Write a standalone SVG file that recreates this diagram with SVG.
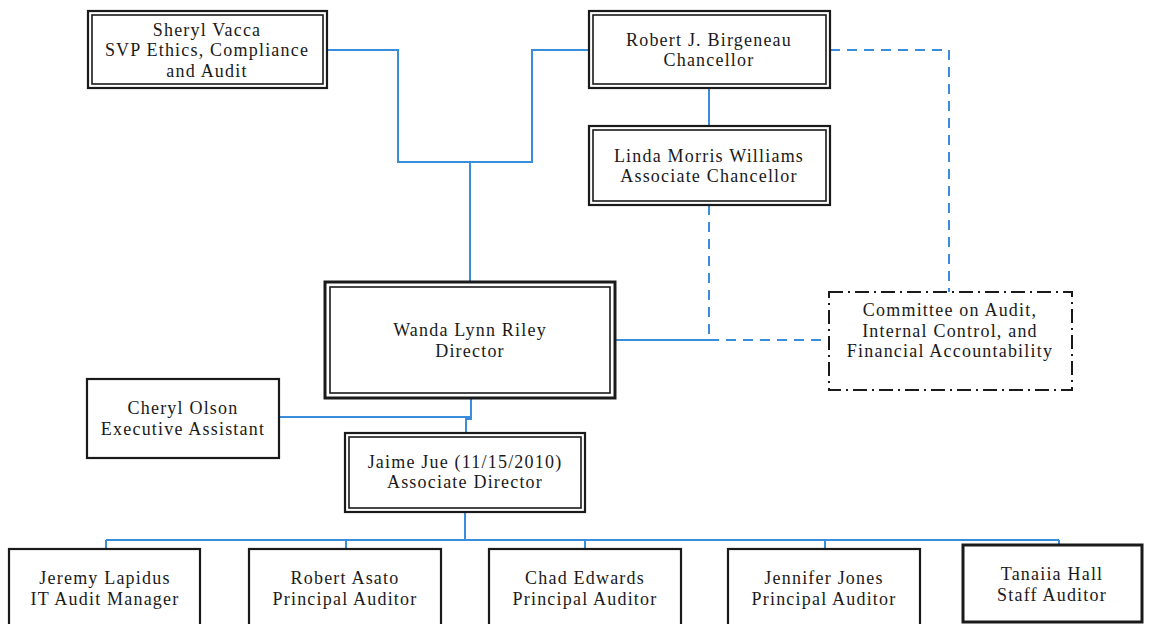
<svg xmlns="http://www.w3.org/2000/svg" width="1153" height="624" viewBox="0 0 1153 624">
<style>
.bg{fill:#ffffff}
.box{fill:#ffffff;stroke:#1a1a1a;stroke-width:2.2}
.inner{fill:none;stroke:#1a1a1a;stroke-width:1.6}
.thick{fill:#ffffff;stroke:#1a1a1a;stroke-width:3}
.cmt{fill:#ffffff;stroke:#1a1a1a;stroke-width:2;stroke-dasharray:14 5 2 5}
.ln{fill:none;stroke:#3a8ddb;stroke-width:2}
.dash{fill:none;stroke:#3a8ddb;stroke-width:2;stroke-dasharray:10 7}
text{font-family:"Liberation Serif","Times New Roman",serif;font-size:18px;fill:#1a1a1a;text-anchor:middle;letter-spacing:1.2px}
</style>
<rect class="bg" x="0" y="0" width="1153" height="624"/>
<g id="connectors">
<polyline class="ln" points="327,50 398,50 398,162 532,162 532,50 589,50"/>
<line class="ln" x1="470" y1="162" x2="470" y2="282"/>
<line class="ln" x1="709" y1="88" x2="709" y2="126"/>
<polyline class="dash" points="709,205 709,340"/>
<line class="ln" x1="615" y1="340" x2="709" y2="340"/>
<line class="dash" x1="709" y1="340" x2="829" y2="340"/>
<polyline class="dash" points="830,50 949,50 949,292"/>
<polyline class="ln" points="471,398 471,419 466,419 466,433"/>
<line class="ln" x1="279" y1="417" x2="471" y2="417"/>
<line class="ln" x1="465" y1="512" x2="465" y2="540"/>
<line class="ln" x1="106" y1="540" x2="1059" y2="540"/>
<line class="ln" x1="106" y1="540" x2="106" y2="549"/>
<line class="ln" x1="346" y1="540" x2="346" y2="549"/>
<line class="ln" x1="585" y1="540" x2="585" y2="549"/>
<line class="ln" x1="825" y1="540" x2="825" y2="549"/>
<line class="ln" x1="1059" y1="540" x2="1059" y2="545"/>
</g>
<g id="vacca">
<rect class="box" x="88" y="11" width="239" height="77"/>
<rect class="inner" x="92" y="15" width="231" height="69"/>
<text x="207" y="36">Sheryl Vacca</text>
<text x="207" y="56">SVP Ethics, Compliance</text>
<text x="207" y="77">and Audit</text>
</g>
<g id="birgeneau">
<rect class="box" x="589" y="11" width="241" height="77"/>
<rect class="inner" x="593" y="15" width="233" height="69"/>
<text x="709" y="46">Robert J. Birgeneau</text>
<text x="709" y="66">Chancellor</text>
</g>
<g id="williams">
<rect class="box" x="589" y="126" width="241" height="79"/>
<rect class="inner" x="593" y="130" width="233" height="71"/>
<text x="709" y="162">Linda Morris Williams</text>
<text x="709" y="182">Associate Chancellor</text>
</g>
<g id="riley">
<rect class="thick" x="325" y="282" width="290" height="116"/>
<rect class="inner" x="330" y="287" width="280" height="106"/>
<text x="470" y="336">Wanda Lynn Riley</text>
<text x="470" y="357">Director</text>
</g>
<g id="committee">
<rect class="cmt" x="829" y="292" width="243" height="98"/>
<text x="950" y="316">Committee on Audit,</text>
<text x="950" y="337">Internal Control, and</text>
<text x="950" y="357">Financial Accountability</text>
</g>
<g id="olson">
<rect class="box" x="87" y="379" width="192" height="79"/>
<text x="183" y="414">Cheryl Olson</text>
<text x="183" y="435">Executive Assistant</text>
</g>
<g id="jue">
<rect class="box" x="345" y="433" width="240" height="79"/>
<rect class="inner" x="349" y="437" width="232" height="71"/>
<text x="465" y="468">Jaime Jue (11/15/2010)</text>
<text x="465" y="488">Associate Director</text>
</g>
<g id="lapidus">
<rect class="box" x="9" y="549" width="191" height="90"/>
<text x="105" y="584">Jeremy Lapidus</text>
<text x="105" y="605">IT Audit Manager</text>
</g>
<g id="asato">
<rect class="box" x="249" y="549" width="192" height="90"/>
<text x="345" y="584">Robert Asato</text>
<text x="345" y="605">Principal Auditor</text>
</g>
<g id="edwards">
<rect class="box" x="489" y="549" width="192" height="90"/>
<text x="585" y="584">Chad Edwards</text>
<text x="585" y="605">Principal Auditor</text>
</g>
<g id="jones">
<rect class="box" x="728" y="549" width="192" height="90"/>
<text x="824" y="584">Jennifer Jones</text>
<text x="824" y="605">Principal Auditor</text>
</g>
<g id="hall">
<rect class="thick" x="963" y="545" width="179" height="77"/>
<text x="1052" y="580">Tanaiia Hall</text>
<text x="1052" y="601">Staff Auditor</text>
</g>
</svg>
